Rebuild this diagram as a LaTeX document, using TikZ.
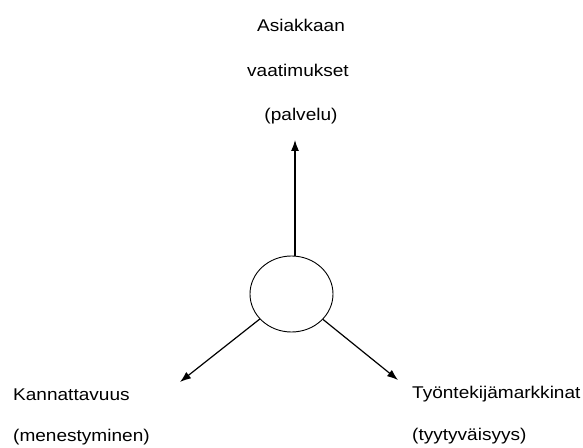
\documentclass[tikz,border=0pt]{standalone}
\usepackage{fontspec}
\setmainfont[FakeStretch=1.12]{Liberation Sans}
\usetikzlibrary{shapes.geometric,arrows.meta}
\begin{document}
\begin{tikzpicture}[x=1pt,y=1pt,
  lbl/.style={inner sep=0pt,font=\fontsize{17}{20}\selectfont},
  arr/.style={line width=1.2pt,-{Latex[length=11pt,width=8pt]}}]
\useasboundingbox (0,0) rectangle (583,447);
\node[draw,line width=0.9pt,ellipse,minimum width=83pt,minimum height=76pt,inner sep=0pt] (c) at (291.5,153) {};
\coordinate (top) at (295,307);
\coordinate (left) at (180,65);
\coordinate (right) at (398,67);
\draw[arr] (c.north -| top) -- (top);
\draw[arr] (c) -- (left);
\draw[arr] (c) -- (right);
\node[lbl,anchor=base] (t1) at (301,415) {Asiakkaan};
\node[lbl,anchor=base] (t2) at (298,370) {vaatimukset};
\node[lbl,anchor=base] (t3) at (301,326) {(palvelu)};
\node[lbl,anchor=base west] (l1) at (13,47) {Kannattavuus};
\node[lbl,anchor=base west] (l2) at (13,6) {(menestyminen)};
\node[lbl,anchor=base west] (r1) at (412,49) {Työntekijämarkkinat};
\node[lbl,anchor=base west] (r2) at (412,7) {(tyytyväisyys)};
\end{tikzpicture}
\end{document}
